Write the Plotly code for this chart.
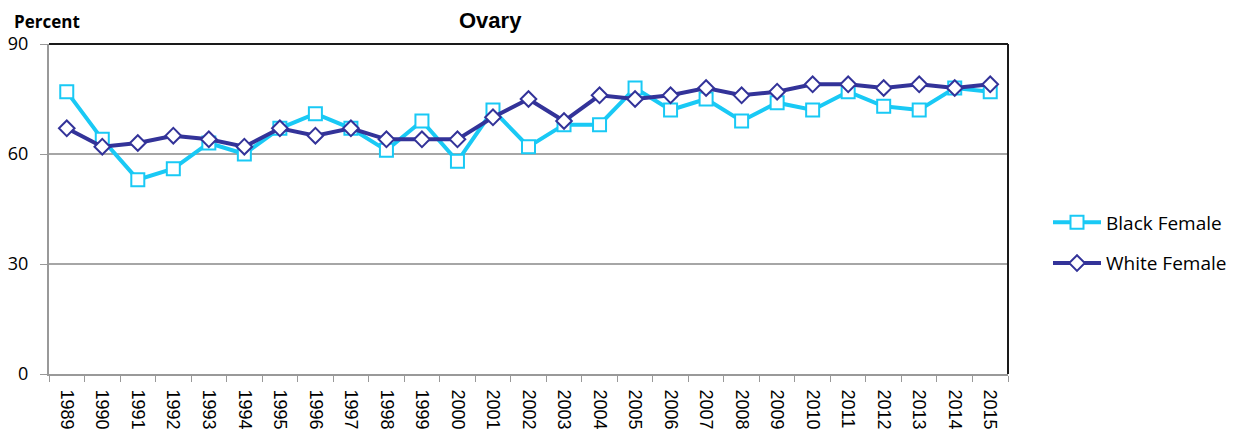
import plotly.graph_objects as go

years = [str(y) for y in range(1989, 2016)]
black_female = [77, 64, 53, 56, 63, 60, 67, 71, 67, 61, 69, 58, 72, 62, 68, 68,
                78, 72, 75, 69, 74, 72, 77, 73, 72, 78, 77]
white_female = [67, 62, 63, 65, 64, 62, 67, 65, 67, 64, 64, 64, 70, 75, 69, 76,
                75, 76, 78, 76, 77, 79, 79, 78, 79, 78, 79]
y_ticks = [0, 30, 60, 90]

# the page body has an 8px margin, so the figure is placed at (8, 8)
OFF = 8
W, H = 1242 - OFF, 435 - OFF
L, R, T, B = 49 - OFF, 1008 - OFF, 44 - OFF, 374 - OFF


def px_x(px):
    return (px - OFF - L) / (R - L)


def px_y(py):
    return (B - (py - OFF)) / (B - T)


fig = go.Figure()
fig.add_trace(go.Scatter(
    x=years, y=black_female, name="Black Female", mode="lines+markers",
    line=dict(color="#19C9F5", width=4),
    marker=dict(symbol="square", size=13, color="white",
                line=dict(color="#19C9F5", width=2)),
    legendgroup="b",
))
fig.add_trace(go.Scatter(
    x=years, y=white_female, name="White Female", mode="lines+markers",
    line=dict(color="#333399", width=4),
    marker=dict(symbol="diamond", size=12, color="white",
                line=dict(color="#333399", width=2)),
    legendgroup="w",
))

fig.update_layout(
    width=W, height=H,
    margin=dict(l=L, r=W - R, t=T, b=H - B, pad=0, autoexpand=False),
    paper_bgcolor="white", plot_bgcolor="white",
    font=dict(family="Liberation Sans, Arial", color="black"),
    legend=dict(
        x=px_x(1048), y=px_y(243), xanchor="left", yanchor="middle",
        font=dict(family="Open Sans", size=19, color="black"),
        tracegroupgap=13, itemwidth=48, bgcolor="rgba(0,0,0,0)",
    ),
    xaxis=dict(
        type="category", tickangle=90, tickson="boundaries",
        showline=True, linecolor="#999999", linewidth=2,
        ticks="outside", ticklen=6, tickcolor="#999999", tickwidth=1,
        showgrid=False, tickfont=dict(family="Liberation Sans", size=18),
        ticklabelstandoff=10, automargin=False,
        range=[-0.5, len(years) - 0.5], fixedrange=True,
    ),
    yaxis=dict(
        range=[0, 90], tickvals=y_ticks, ticktext=[str(v) for v in y_ticks],
        showline=True, linecolor="#999999", linewidth=2,
        ticks="outside", ticklen=7, tickcolor="#999999",
        showgrid=True, gridcolor="#A6A6A6", gridwidth=1.5,
        zeroline=False, ticklabelstandoff=8, automargin=False,
        tickfont=dict(family="Open Sans", size=18),
    ),
    shapes=[
        dict(type="line", xref="paper", yref="paper", x0=0, x1=1, y0=1, y1=1,
             line=dict(color="#1a1a1a", width=2)),
        dict(type="line", xref="paper", yref="paper", x0=1, x1=1, y0=0, y1=1,
             line=dict(color="#1a1a1a", width=2)),
    ],
    annotations=[
        dict(text="<b>Ovary</b>", xref="paper", yref="paper",
             x=px_x(490), y=px_y(20.5), xanchor="center", yanchor="middle",
             showarrow=False, font=dict(family="Liberation Sans", size=22)),
        dict(text="<b>Percent</b>", xref="paper", yref="paper",
             x=px_x(12), y=px_y(21.5), xanchor="left", yanchor="middle",
             showarrow=False, font=dict(family="Open Sans", size=17)),
    ],
)

fig.write_html("out.html")
